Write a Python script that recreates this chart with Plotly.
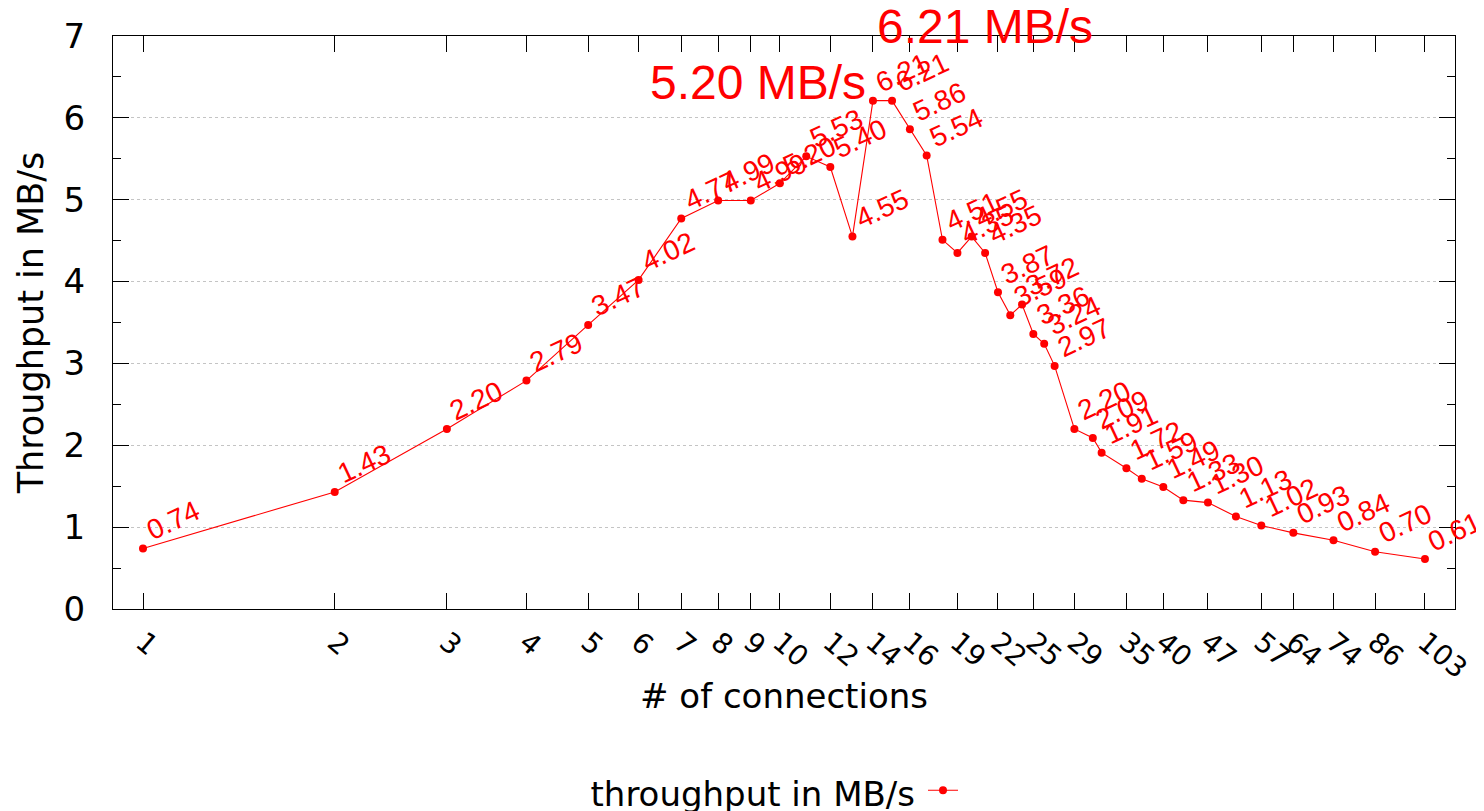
import math
import plotly.graph_objects as go

connections = [1, 2, 3, 4, 5, 6, 7, 8, 9, 10, 11, 12, 13, 14, 15, 16, 17, 18, 19, 20,
               21, 22, 23, 24, 25, 26, 27, 29, 31, 32, 35, 37, 40, 43, 47, 52, 57, 64,
               74, 86, 103]
throughput = [0.74, 1.43, 2.20, 2.79, 3.47, 4.02, 4.77, 4.99, 4.99, 5.20, 5.53, 5.40,
              4.55, 6.21, 6.21, 5.86, 5.54, 4.51, 4.35, 4.55, 4.35, 3.87, 3.59, 3.72,
              3.36, 3.24, 2.97, 2.20, 2.09, 1.91, 1.72, 1.59, 1.49, 1.33, 1.30, 1.13,
              1.02, 0.93, 0.84, 0.70, 0.61]
x_ticks = [1, 2, 3, 4, 5, 6, 7, 8, 9, 10, 12, 14, 16, 19, 22, 25, 29, 35, 40, 47, 57,
           64, 74, 86, 103]
y_ticks = [0, 1, 2, 3, 4, 5, 6, 7]
callouts = [(10, 5.20, "5.20 MB/s"), (14, 6.21, "6.21 MB/s")]

RED = "#ff0000"
AXFONT = dict(family="DejaVu Sans", size=34, color="black")

fig = go.Figure()
fig.add_trace(go.Scatter(
    x=connections, y=throughput, mode="lines+markers", name=" ",
    line=dict(color=RED, width=1.1),
    marker=dict(color=RED, size=8),
    cliponaxis=False,
))

annotations = []
for c, v in zip(connections, throughput):
    annotations.append(dict(
        x=math.log10(c), y=v, xref="x", yref="y", text=f"{v:.2f}",
        showarrow=False, textangle=-25, xanchor="center", yanchor="middle",
        xshift=30, yshift=28,
        font=dict(family="Liberation Sans", size=28, color=RED),
    ))

# big callouts
annotations.append(dict(
    x=math.log10(callouts[0][0]), y=callouts[0][1], xref="x", yref="y",
    text=callouts[0][2], showarrow=False, xanchor="center", yanchor="middle",
    xshift=-22, yshift=101,
    font=dict(family="Liberation Sans", size=48, color=RED),
))
annotations.append(dict(
    x=math.log10(callouts[1][0]), y=callouts[1][1], xref="x", yref="y",
    text=callouts[1][2], showarrow=False, xanchor="center", yanchor="middle",
    xshift=112, yshift=74,
    font=dict(family="Liberation Sans", size=48, color=RED),
))

fig.update_layout(
    width=1476, height=803,
    margin=dict(l=105, r=29, t=28, b=202, autoexpand=False),
    paper_bgcolor="white", plot_bgcolor="white",
    font=AXFONT,
    showlegend=True,
    legend=dict(
        orientation="h", x=0.5, xanchor="center", y=-0.317, yanchor="middle",
        title=dict(text="throughput in MB/s", side="left", font=AXFONT),
        font=AXFONT, bgcolor="rgba(0,0,0,0)",
    ),
    annotations=annotations,
)

fig.update_xaxes(
    type="log", range=[-0.0471, 2.0600],
    tickvals=x_ticks, ticktext=[str(t) for t in x_ticks],
    tickangle=40, ticks="inside", ticklen=16, tickcolor="black", tickwidth=1,
    showline=True, linecolor="black", linewidth=1, mirror="ticks",
    showgrid=False, zeroline=False, automargin=False,
    tickfont=dict(family="DejaVu Sans", size=28, color="black"),
    ticklabelstandoff=5,
    title=dict(text="# of connections", font=AXFONT, standoff=0),
)
fig.update_yaxes(
    range=[0, 7], tickvals=y_ticks, ticks="inside", ticklen=16,
    tickcolor="black", tickwidth=1,
    minor=dict(dtick=0.5, ticks="inside", ticklen=8, tickcolor="black", showgrid=False),
    showline=True, linecolor="black", linewidth=1, mirror="ticks",
    showgrid=True, gridcolor="#c4c4c4", griddash="dot", gridwidth=1,
    zeroline=False, automargin=False,
    tickfont=AXFONT, ticklabelstandoff=20,
    title=dict(text="Throughput in MB/s", font=dict(family="DejaVu Sans", size=35, color="black"), standoff=9),
)

fig.write_html("out.html")
